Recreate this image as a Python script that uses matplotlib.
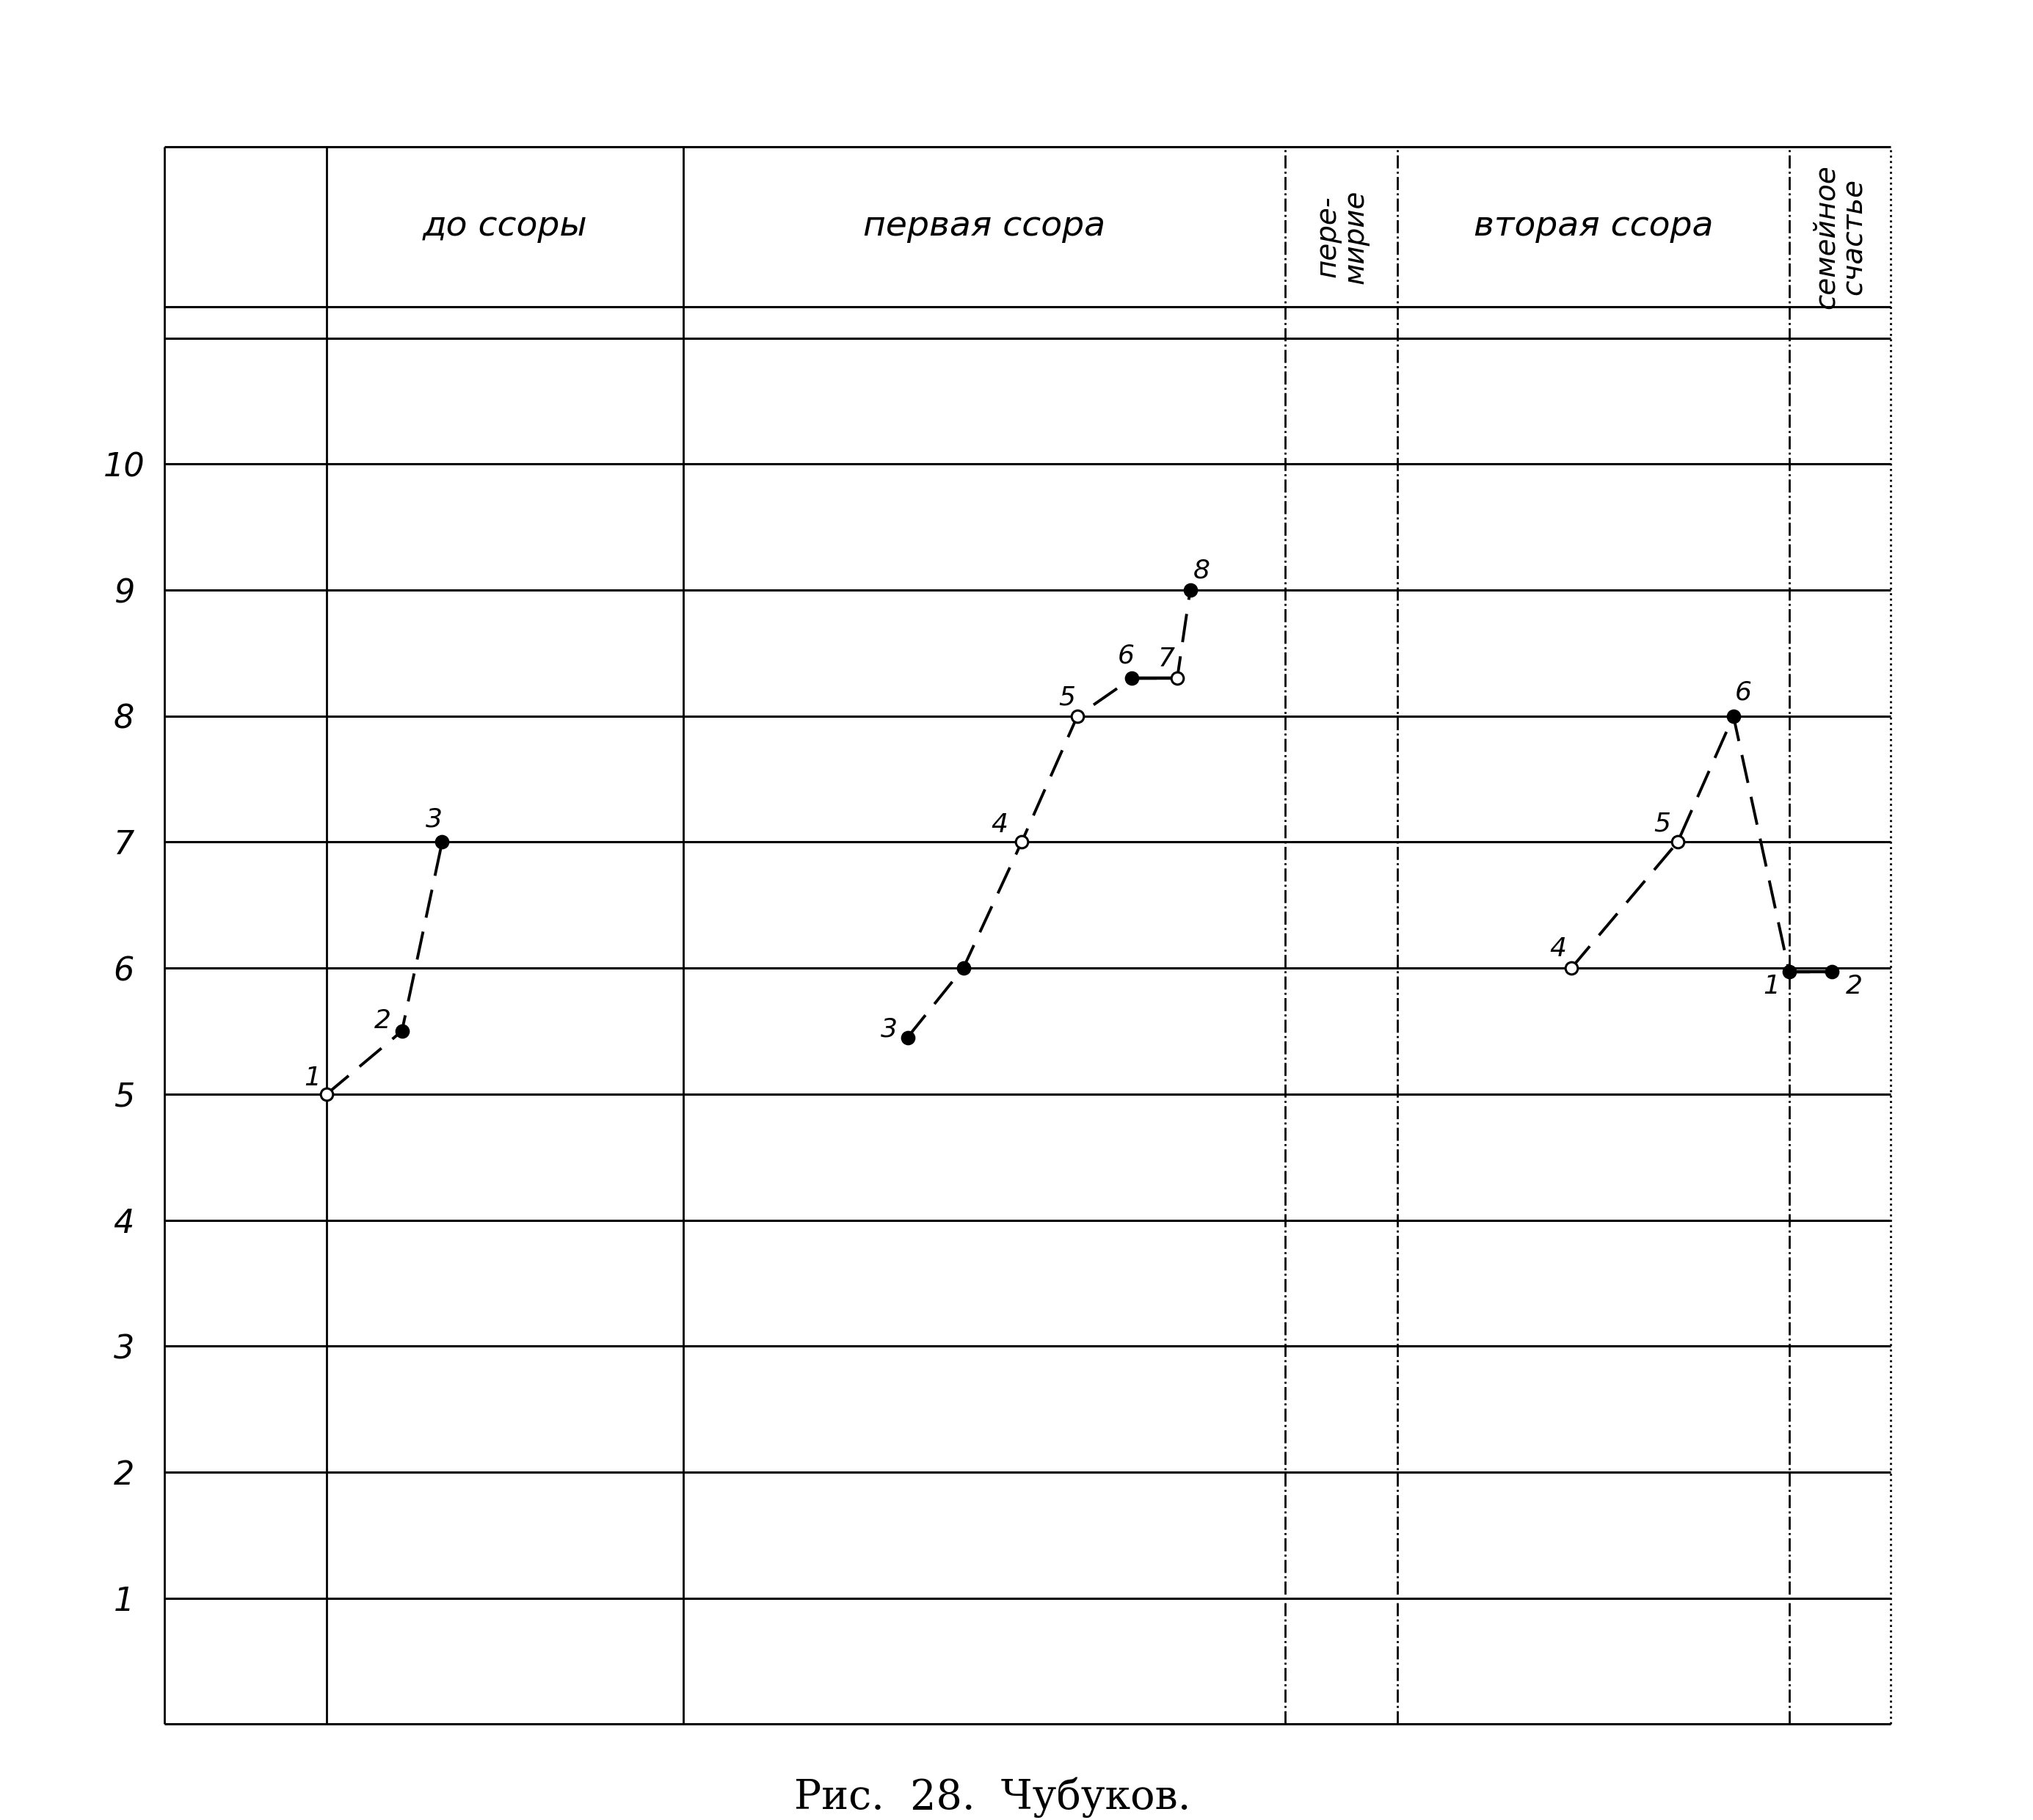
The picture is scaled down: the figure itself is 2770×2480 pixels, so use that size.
import matplotlib
matplotlib.use("Agg")
import matplotlib.pyplot as plt

# ---------------- data ----------------
y_ticks = [1, 2, 3, 4, 5, 6, 7, 8, 9, 10]
y_tick_labels = ["1", "2", "3", "4", "5", "6", "7", "8", "9", "10"]

# column boundaries along the time axis (arbitrary units)
col_bounds = [127, 252, 527, 991, 1078, 1380, 1458]
col_titles = ["", "до ссоры", "первая ссора", "пере-\nмирие", "вторая ссора", "семейное\nсчастье"]

# series 1: до ссоры
s1_x = [252, 310, 341]
s1_y = [5.0, 5.5, 7.0]
s1_labels = ["1", "2", "3"]

# series 2: первая ссора
s2_x = [700, 743, 788, 831, 873, 908, 918]
s2_y = [5.45, 6.0, 7.0, 8.0, 8.3, 8.3, 9.0]
s2_labels = ["3", "", "4", "5", "6", "7", "8"]

# series 3: вторая ссора / семейное счастье
s3_x = [1212, 1294, 1337, 1380, 1413]
s3_y = [6.0, 7.0, 8.0, 5.97, 5.97]
s3_labels = ["4", "5", "6", "1", "2"]

caption = "Рис.  28.  Чубуков."

# ---------------- styles ----------------
s1_filled = [False, True, True]
s2_filled = [True, True, False, False, True, False, True]
s3_filled = [False, False, True, True, True]
s1_off = [(-14, 16), (-19, 10), (-8, 22)]
s2_off = [(-18, 8), (0, 0), (-22, 17), (-10, 18), (-6, 22), (-11, 19), (11, 19)]
s3_off = [(-13, 19), (-15, 18), (10, 23), (-17, -14), (22, -14)]

fig = plt.figure(figsize=(27.7, 24.8), dpi=100)
fig.patch.set_facecolor("white")
ax = fig.add_axes([0.0810, 0.0527, 0.8488, 0.8668])
x0, x1 = col_bounds[0], col_bounds[-1]
y_top = 12.52
ax.set_xlim(x0, x1)
ax.set_ylim(0, y_top)
for sp in ax.spines.values():
    sp.set_visible(False)
ax.set_xticks([])

# y ticks
ax.set_yticks(y_ticks)
ax.set_yticklabels(y_tick_labels, fontsize=32, style="italic", family="DejaVu Sans")
ax.tick_params(axis="y", length=0, pad=40)
for lbl in ax.get_yticklabels():
    lbl.set_ha("center")

# horizontal lines
hl = [0] + y_ticks + [11, 11.25, y_top]
ax.hlines(hl, x0, x1, colors="black", linewidth=2.2, clip_on=False, zorder=1)

# vertical lines
v_styles = ["-", "-", "-", "-.", "-.", "-.", ":"]
for xb, ls in zip(col_bounds, v_styles):
    ax.vlines(xb, 0, y_top, colors="black", linewidth=2.0, linestyles=ls,
              clip_on=False, zorder=1)

# header titles
hdr_y = (11.25 + y_top) / 2
for i, t in enumerate(col_titles):
    if not t:
        continue
    xc = (col_bounds[i] + col_bounds[i + 1]) / 2
    if "\n" in t:
        ax.text(xc, hdr_y - 0.08, t, rotation=90, ha="center", va="center",
                fontsize=28, style="italic", linespacing=1.0)
    else:
        ax.text(xc, hdr_y + 0.0, t, ha="center", va="center",
                fontsize=34, style="italic")


def draw_series(xs, ys, labels, filled, offs, solid_pairs=()):
    ax.plot(xs, ys, color="black", linewidth=2.8, linestyle=(0, (10, 5)),
            zorder=3)
    for a, b in solid_pairs:
        ax.plot(xs[a:b + 1], ys[a:b + 1], color="black", linewidth=3.2,
                linestyle="-", zorder=3)
    for x, y, lab, f, off in zip(xs, ys, labels, filled, offs):
        ax.plot(x, y, marker="o", markersize=12, markeredgewidth=2.2,
                markeredgecolor="black",
                markerfacecolor="black" if f else "white", zorder=4)
        if lab:
            ax.annotate(lab, (x, y), xytext=off, textcoords="offset points",
                        ha="center", va="center", fontsize=26,
                        style="italic", zorder=5)


draw_series(s1_x, s1_y, s1_labels, s1_filled, s1_off)
draw_series(s2_x, s2_y, s2_labels, s2_filled, s2_off, solid_pairs=[(4, 5)])
draw_series(s3_x, s3_y, s3_labels, s3_filled, s3_off, solid_pairs=[(3, 4)])

fig.text(0.488, 0.0125, caption, ha="center", va="center", fontsize=40,
         family="DejaVu Serif")

fig.savefig("out.png", dpi=100, facecolor="white")
